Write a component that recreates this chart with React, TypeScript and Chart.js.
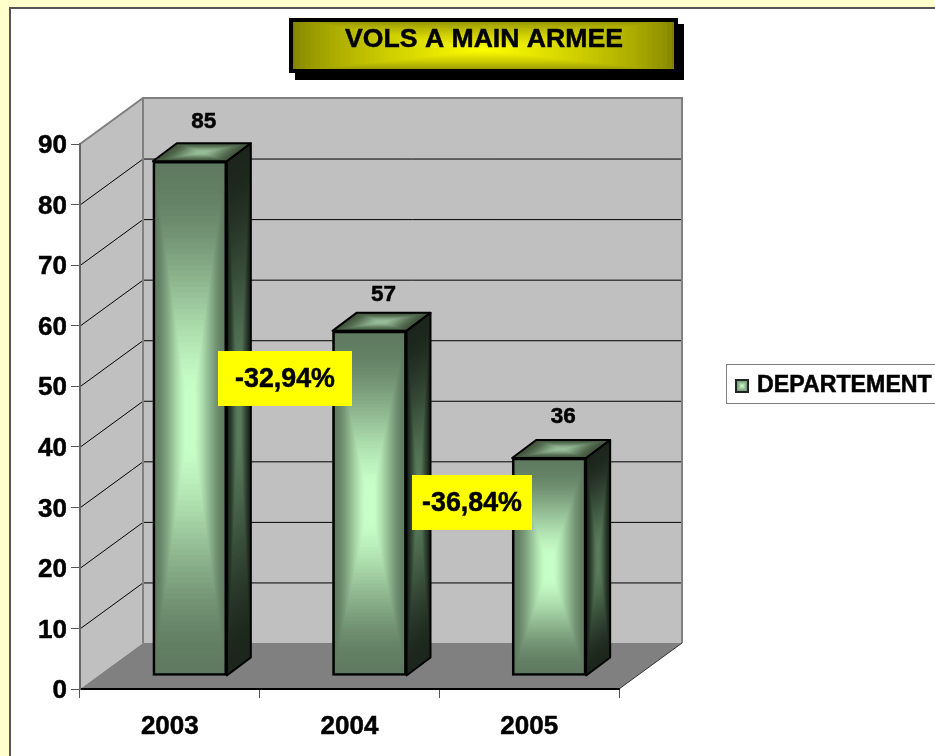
import React, { useEffect, useRef } from "react";
import { Chart, registerables } from "chart.js";

Chart.register(...registerables);

const categories = ["2003", "2004", "2005"];
const seriesName = "DEPARTEMENT";
const values = [85, 57, 36];
const yMax = 90;
const yStep = 10;
const chartTitle = "VOLS A MAIN ARMEE";
const changeLabels = ["-32,94%", "-36,84%"];

const FONT = '"Liberation Sans"';
const WALL_DX = 63;
const WALL_DY = 46;
const BAR_SHIFT_X = 20;
const BAR_SHIFT_Y = -13;
const BAR_DX = 24;
const BAR_DY = 18;

type Pt = [number, number];
const hex = (c: string) => [1, 3, 5].map((i) => parseInt(c.slice(i, i + 2), 16));
const mix = (a: string, b: string, t: number) => {
  const A = hex(a), B = hex(b);
  return `rgb(${A.map((v, i) => Math.round(v + (B[i] - v) * t)).join(",")})`;
};
const smooth = (t: number) => Math.min(1, t * t * (3 - 2 * t) * 1.04);

function poly(ctx: CanvasRenderingContext2D, pts: Pt[]) {
  ctx.beginPath();
  pts.forEach((p, i) => (i ? ctx.lineTo(p[0], p[1]) : ctx.moveTo(p[0], p[1])));
  ctx.closePath();
}

function pathGradient(
  ctx: CanvasRenderingContext2D,
  pts: Pt[],
  edge: string,
  centre: string,
  steps = 48,
  c?: Pt,
  curve: (t: number) => number = smooth,
) {
  const cx = c ? c[0] : pts.reduce((s, p) => s + p[0], 0) / pts.length;
  const cy = c ? c[1] : pts.reduce((s, p) => s + p[1], 0) / pts.length;
  for (let i = 0; i < steps; i++) {
    const t = i / (steps - 1);
    poly(ctx, pts.map((p) => [p[0] + (cx - p[0]) * t, p[1] + (cy - p[1]) * t] as Pt));
    ctx.fillStyle = mix(edge, centre, curve(t));
    ctx.fill();
  }
}

function boldText(ctx: CanvasRenderingContext2D, text: string, x: number, y: number) {
  ctx.strokeStyle = "#000000";
  ctx.lineWidth = 0.5;
  ctx.strokeText(text, x, y);
  ctx.fillText(text, x, y);
}

const scenePlugin = {
  id: "scene",
  beforeDraw(chart: any) {
    const { ctx, chartArea: a, scales } = chart;
    const W = chart.width, H = chart.height;
    ctx.save();
    ctx.fillStyle = "#FFFFCC";
    ctx.fillRect(0, 0, W, H);
    ctx.fillStyle = "#FFFFFF";
    ctx.fillRect(10, 8, W, H);
    ctx.strokeStyle = "#555555";
    ctx.lineWidth = 2;
    ctx.beginPath();
    ctx.moveTo(10, H);
    ctx.lineTo(10, 8);
    ctx.lineTo(W, 8);
    ctx.stroke();

    // walls and floor
    const l = a.left, r = a.right, t = a.top, b = a.bottom;
    ctx.fillStyle = "#C0C0C0";
    poly(ctx, [[l, t], [l + WALL_DX, t - WALL_DY], [l + WALL_DX, b - WALL_DY], [l, b]]);
    ctx.fill();
    poly(ctx, [[l + WALL_DX, t - WALL_DY], [r + WALL_DX, t - WALL_DY], [r + WALL_DX, b - WALL_DY], [l + WALL_DX, b - WALL_DY]]);
    ctx.fill();
    ctx.fillStyle = "#808080";
    poly(ctx, [[l, b], [l + WALL_DX, b - WALL_DY], [r + WALL_DX, b - WALL_DY], [r, b]]);
    ctx.fill();

    // grid lines on the two walls
    ctx.strokeStyle = "#000000";
    ctx.lineWidth = 1;
    for (let v = yStep; v < yMax; v += yStep) {
      const y = scales.y.getPixelForValue(v);
      ctx.beginPath();
      ctx.moveTo(l, y + 0.5);
      ctx.lineTo(l + WALL_DX, y - WALL_DY + 0.5);
      ctx.lineTo(r + WALL_DX, y - WALL_DY + 0.5);
      ctx.stroke();
    }
    // wall edges
    ctx.strokeStyle = "#808080";
    ctx.lineWidth = 2;
    ctx.beginPath();
    ctx.moveTo(l, t);
    ctx.lineTo(l + WALL_DX, t - WALL_DY);
    ctx.lineTo(r + WALL_DX, t - WALL_DY);
    ctx.lineTo(r + WALL_DX, b - WALL_DY);
    ctx.moveTo(l + WALL_DX, t - WALL_DY);
    ctx.lineTo(l + WALL_DX, b - WALL_DY);
    ctx.stroke();
    ctx.strokeStyle = "#333333";
    ctx.lineWidth = 1;
    ctx.beginPath();
    ctx.moveTo(r, b);
    ctx.lineTo(r + WALL_DX, b - WALL_DY);
    ctx.stroke();
    ctx.restore();
  },
  beforeDatasetDraw(chart: any) {
    const { ctx } = chart;
    ctx.save();
    ctx.translate(BAR_SHIFT_X, BAR_SHIFT_Y);
    const bars = chart.getDatasetMeta(0).data;
    bars.forEach((bar: any) => {
      const x0 = bar.x - bar.width / 2, x1 = bar.x + bar.width / 2;
      const y0 = bar.y, y1 = bar.base;
      const side: Pt[] = [[x1, y0], [x1 + BAR_DX, y0 - BAR_DY], [x1 + BAR_DX, y1 - BAR_DY], [x1, y1]];
      const top: Pt[] = [[x0, y0], [x0 + BAR_DX, y0 - BAR_DY], [x1 + BAR_DX, y0 - BAR_DY], [x1, y0]];
      const front: Pt[] = [[x0, y0], [x1, y0], [x1, y1], [x0, y1]];
      pathGradient(ctx, side, "#1C261C", "#5A7C5C");
      pathGradient(ctx, top, "#43573F", "#97BC97");
      pathGradient(ctx, front, "#5F7A60", "#C8FFC8");
      ctx.strokeStyle = "#000000";
      ctx.lineWidth = 2;
      ctx.lineJoin = "round";
      poly(ctx, side);
      ctx.stroke();
      poly(ctx, top);
      ctx.stroke();
    });
  },
  afterDatasetDraw(chart: any) {
    chart.ctx.restore();
  },
  afterDraw(chart: any) {
    const { ctx } = chart;
    ctx.save();
    ctx.textAlign = "center";
    ctx.textBaseline = "middle";
    ctx.fillStyle = "#000000";

    // value labels over the bars
    ctx.font = `bold 22.5px ${FONT}`;
    const bars = chart.getDatasetMeta(0).data;
    const nudge = [-1, 2, -3];
    bars.forEach((bar: any, i: number) => {
      boldText(ctx, String(values[i]), bar.x + BAR_SHIFT_X + 14, bar.y + BAR_SHIFT_Y - BAR_DY - 20 + nudge[i]);
    });

    // title box
    ctx.fillStyle = "#000000";
    ctx.fillRect(295, 24, 389, 56);
    pathGradient(ctx, [[290, 19], [677, 19], [677, 72], [290, 72]], "#808000", "#FFFF00", 40, [484, 50], (t) => Math.pow(t, 0.7));
    ctx.strokeStyle = "#000000";
    ctx.lineWidth = 4;
    ctx.strokeRect(291, 20, 385, 51);
    ctx.fillStyle = "#000000";
    ctx.font = `bold 26.6px ${FONT}`;
    boldText(ctx, chartTitle, 484, 40);

    // change labels
    const boxes: [number, number, number, number][] = [
      [218, 351, 134, 55],
      [412, 475, 120, 55],
    ];
    ctx.font = `bold 26.8px ${FONT}`;
    boxes.forEach((bx, i) => {
      ctx.fillStyle = "#FFFF00";
      ctx.fillRect(bx[0], bx[1], bx[2], bx[3]);
      ctx.fillStyle = "#000000";
      boldText(ctx, changeLabels[i], bx[0] + bx[2] / 2, bx[1] + bx[3] / 2 + 1);
    });

    // legend
    ctx.fillStyle = "#FFFFFF";
    ctx.fillRect(727, 365, 220, 38);
    ctx.strokeStyle = "#808080";
    ctx.lineWidth = 1;
    ctx.strokeRect(726.5, 364.5, 240, 39);
    pathGradient(ctx, [[736, 380], [748, 380], [748, 392], [736, 392]], "#7A9A7A", "#C8FFC8", 6);
    ctx.lineWidth = 2;
    ctx.strokeStyle = "#222222";
    ctx.strokeRect(736, 380, 12, 12);
    ctx.fillStyle = "#000000";
    ctx.textAlign = "left";
    ctx.font = `bold 23.2px ${FONT}`;
    boldText(ctx, seriesName, 757, 386);
    ctx.restore();
  },
};

export default function App() {
  const ref = useRef<HTMLCanvasElement>(null);
  useEffect(() => {
    document.body.style.margin = "0";
    const chart = new Chart(ref.current as HTMLCanvasElement, {
      type: "bar",
      data: {
        labels: categories,
        datasets: [
          {
            label: seriesName,
            data: values,
            backgroundColor: "rgba(0,0,0,0)",
            borderColor: "#000000",
            borderWidth: 2,
            borderSkipped: false,
            barThickness: 74,
            clip: false,
          } as any,
        ],
      },
      plugins: [scenePlugin],
      options: {
        animation: false,
        responsive: false,
        layout: { padding: { left: 0, top: 144, right: 316, bottom: 0 } },
        plugins: { legend: { display: false }, title: { display: false }, tooltip: { enabled: false } },
        scales: {
          x: {
            offset: true,
            afterFit: (s: any) => { s.height = 67; },
            grid: { display: true, offset: true, drawOnChartArea: false, drawTicks: true, tickLength: 9, color: "#555555" },
            border: { display: true, color: "#000000", width: 2 },
            ticks: { color: "#000000", padding: 13, maxRotation: 0, textStrokeColor: "#000000", textStrokeWidth: 0.5, font: { family: FONT, size: 26, weight: "bold" } },
          },
          y: {
            min: 0,
            max: yMax,
            afterFit: (s: any) => { s.width = 80; },
            grid: { display: true, drawOnChartArea: false, drawTicks: true, tickLength: 9, color: "#555555" },
            border: { display: true, color: "#666666", width: 2 },
            ticks: { stepSize: yStep, color: "#000000", padding: 4, labelOffset: 2, textStrokeColor: "#000000", textStrokeWidth: 0.5, font: { family: FONT, size: 26, weight: "bold" } },
          },
        },
      } as any,
    });
    return () => chart.destroy();
  }, []);
  return <canvas ref={ref} width={935} height={756} style={{ display: "block" }} />;
}
